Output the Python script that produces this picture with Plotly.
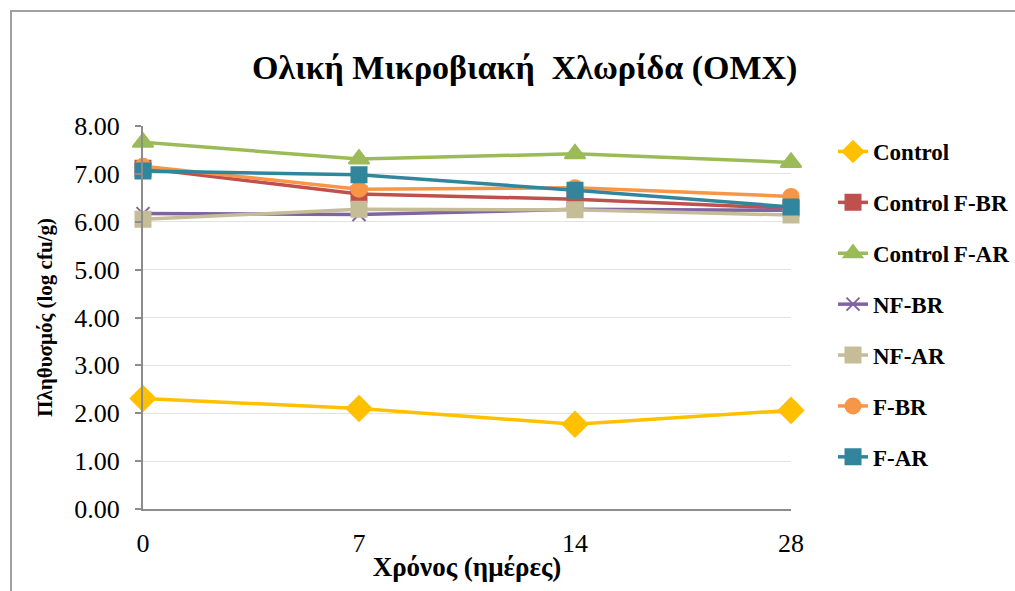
import plotly.graph_objects as go

# Sampling days (categories) and log counts per treatment
days = ["0", "7", "14", "28"]
control = [2.31, 2.10, 1.77, 2.06]
control_f_br = [7.12, 6.58, 6.47, 6.28]
control_f_ar = [7.66, 7.31, 7.42, 7.24]
nf_br = [6.17, 6.15, 6.26, 6.24]
nf_ar = [6.05, 6.26, 6.25, 6.14]
f_br = [7.16, 6.68, 6.71, 6.53]
f_ar = [7.06, 6.98, 6.66, 6.31]

y_ticks = [0, 1, 2, 3, 4, 5, 6, 7, 8]
y_tick_text = [f"{v:.2f}" for v in y_ticks]

series = [
    ("Control", control, "#FFC000", "diamond", 19),
    ("Control\u2009F-BR", control_f_br, "#C0504D", "square", 15),
    ("Control\u2009F-AR", control_f_ar, "#9BBB59", "triangle-up", 18),
    ("NF-BR", nf_br, "#8064A2", "x-thin-open", 13),
    ("NF-AR", nf_ar, "#C4BD97", "square", 15),
    ("F-BR", f_br, "#F79646", "circle", 15),
    ("F-AR", f_ar, "#31859C", "square", 15),
]

FONT = "Liberation Serif"
x_pos = list(range(len(days)))

fig = go.Figure()
for name, vals, color, symbol, size in series:
    fig.add_trace(go.Scatter(
        x=x_pos, y=vals, name=name, mode="lines+markers",
        legendgroup=name,
        line=dict(color=color, width=3.5),
        marker=dict(symbol=symbol, size=size, color=color,
                    line=dict(color=color, width=2)),
        cliponaxis=False,
    ))

W, H = 1015, 591
L, R, T, B = 143, 224, 126, 82
pw, ph = W - L - R, H - T - B

def px_x(p):
    return (p - L) / pw

def px_y(p):
    return (H - B - p) / ph

fig.update_layout(
    width=W, height=H,
    margin=dict(l=L, r=R, t=T, b=B, autoexpand=False),
    paper_bgcolor="white", plot_bgcolor="white",
    font=dict(family=FONT, color="black", size=23),
    showlegend=True,
    legend=dict(
        x=px_x(833), y=px_y(130), xanchor="left", yanchor="top",
        font=dict(family=FONT, size=23, color="black", weight="bold"),
        tracegroupgap=18, traceorder="grouped",
        bgcolor="rgba(0,0,0,0)",
    ),
    annotations=[dict(
        text="<b>Ολική Μικροβιακή  Χλωρίδα (ΟΜΧ)</b>",
        xref="paper", yref="paper",
        x=px_x(524), y=px_y(68), xanchor="center", yanchor="middle",
        showarrow=False, font=dict(family=FONT, size=34, color="black"),
    )],
    shapes=[dict(
        type="rect", xref="paper", yref="paper",
        x0=px_x(11), x1=px_x(1100), y0=px_y(700), y1=px_y(11),
        line=dict(color="#A0A0A0", width=2), fillcolor="rgba(0,0,0,0)",
        layer="below",
    )],
)

fig.update_xaxes(
    range=[0, len(days) - 1],
    tickmode="array", tickvals=x_pos, ticktext=days,
    showgrid=False, zeroline=False,
    showline=True, linecolor="#8C8C8C", linewidth=2,
    ticks="", ticklabelstandoff=10,
    tickfont=dict(family=FONT, size=26, color="black"),
    title=dict(text="<b>Χρόνος (ημέρες)</b>", standoff=0,
               font=dict(family=FONT, size=27, color="black")),
)
fig.update_yaxes(
    range=[0, 8],
    tickmode="array", tickvals=y_ticks, ticktext=y_tick_text,
    showgrid=True, gridcolor="#E2E2E2", gridwidth=1,
    zeroline=False,
    showline=True, linecolor="#8C8C8C", linewidth=2,
    ticks="outside", ticklen=6, tickcolor="#8C8C8C", tickwidth=2,
    ticklabelstandoff=10,
    tickfont=dict(family=FONT, size=26, color="black"),
    title=dict(text="<b>Πληθυσμός (log cfu/g)</b>", standoff=16,
               font=dict(family=FONT, size=21, color="black")),
)

fig.write_html("out.html")
